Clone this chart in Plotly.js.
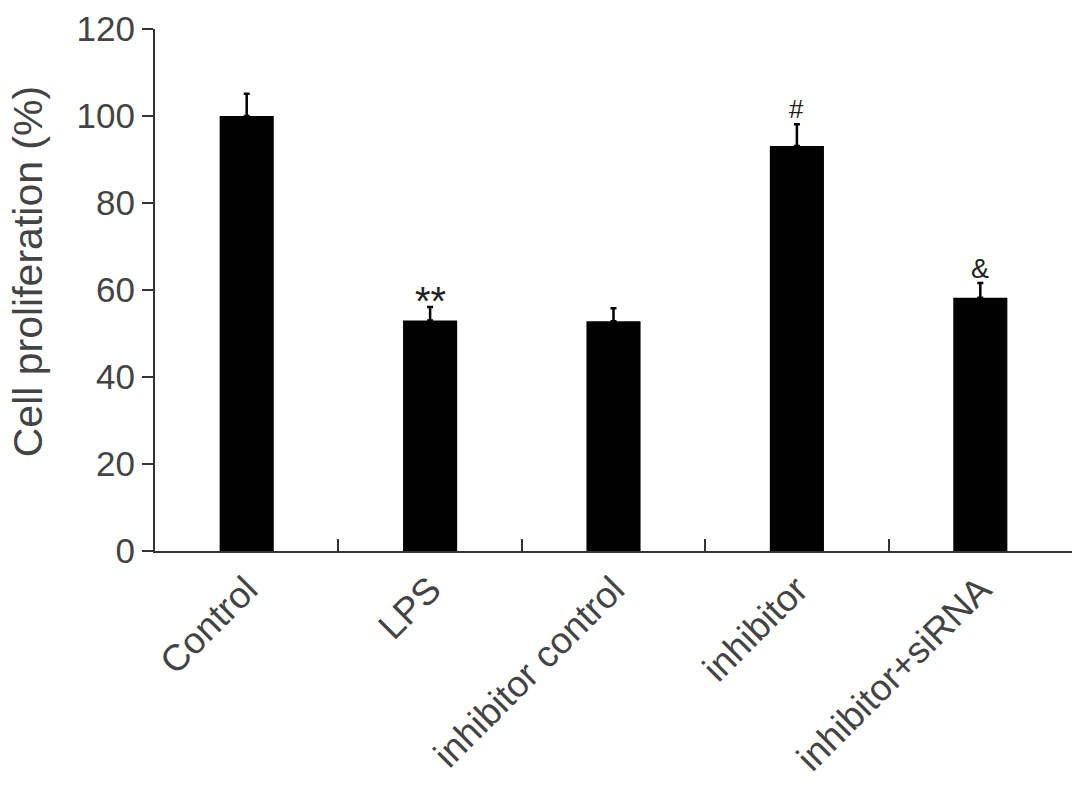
<!DOCTYPE html>
<html>
<head>
<meta charset="utf-8">
<script src="https://cdn.plot.ly/plotly-3.0.1.min.js"></script>
<style>
  html,body{margin:0;padding:0;background:#fff;}
  #chart{width:1087px;height:788px;}
</style>
</head>
<body>
<div id="chart"></div>
<script>
// data
const groups = ['Control','LPS','inhibitor control','inhibitor','inhibitor+siRNA'];
const means  = [100, 53.0, 52.8, 93.1, 58.2];
const errUp  = [5.1, 3.1, 3.0, 5.0, 3.4];
const marks  = ['', '**', '', '#', '&'];
const yTitle = 'Cell proliferation (%)';

const FONT = 'Liberation Sans, Arial, sans-serif';
const TXT = '#444';
// per-symbol look (size, shift in px)
const markStyle = {'**':{size:40, shift:-18}, '#':{size:26, shift:-2}, '&':{size:27, shift:-3}};

const bars = {
  type:'bar', x:groups, y:means,
  width:0.295,
  marker:{color:'#000', line:{width:0}},
  error_y:{type:'data', symmetric:false, array:errUp, arrayminus:groups.map(()=>0),
    color:'#000', thickness:2.5, width:3},
  hoverinfo:'none'
};

const annotations = groups.map((g,i)=>{
  const st = markStyle[marks[i]] || {size:24, shift:0};
  return {
    x:g, y:means[i]+errUp[i], xref:'x', yref:'y',
    text:marks[i], showarrow:false, yanchor:'bottom', yshift:st.shift,
    font:{family:FONT, size:st.size, color:'#222'}
  };
}).filter(a=>a.text);

// y title sits a bit above the plot centre in the original
annotations.push({
  xref:'paper', yref:'paper', x:-0.139, y:0.535, xanchor:'center', yanchor:'middle',
  text:yTitle, textangle:-90, showarrow:false,
  font:{family:FONT, size:41, color:TXT}
});

const layout = {
  width:1087, height:788,
  margin:{l:155, r:15, t:29, b:237},
  paper_bgcolor:'#fff', plot_bgcolor:'#fff',
  showlegend:false,
  font:{family:FONT, color:TXT},
  xaxis:{
    type:'category', range:[-0.5,4.5],
    showline:true, linecolor:'#333', linewidth:2,
    ticks:'inside', tickson:'boundaries', ticklen:12, tickwidth:2, tickcolor:'#333',
    tickangle:-45, tickfont:{family:FONT, size:37, color:TXT},
    showgrid:false, zeroline:false
  },
  yaxis:{
    range:[0,120], dtick:20,
    showline:true, linecolor:'#333', linewidth:2,
    ticks:'outside', ticklen:11, tickwidth:2, tickcolor:'#333',
    tickfont:{family:FONT, size:35, color:TXT},
    showgrid:false, zeroline:false
  },
  annotations
};

Plotly.newPlot('chart',[bars],layout,{displayModeBar:false, staticPlot:true});
</script>
</body>
</html>
